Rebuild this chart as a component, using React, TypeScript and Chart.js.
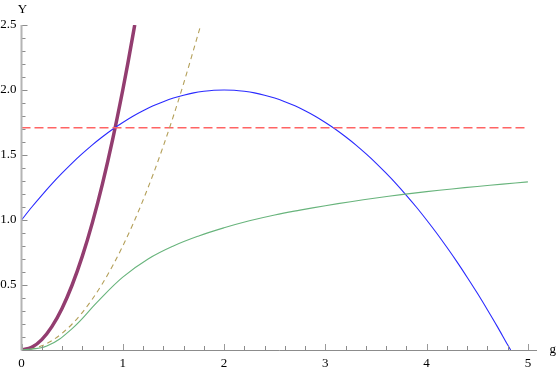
import React, { useEffect, useRef } from "react";
import { Chart, registerables } from "chart.js";

Chart.register(...registerables);

// Data
const blueG = [0, 0.1, 0.2, 0.3, 0.4, 0.5, 0.6, 0.7, 0.8, 0.9, 1.0, 1.1, 1.2, 1.3, 1.4, 1.5, 1.6, 1.7, 1.8, 1.9, 2.0,
  2.1, 2.2, 2.3, 2.4, 2.5, 2.6, 2.7, 2.8, 2.9, 3.0, 3.1, 3.2, 3.3, 3.4, 3.5, 3.6, 3.7, 3.8, 3.9, 4.0,
  4.1, 4.2, 4.3, 4.4, 4.5, 4.6, 4.7, 4.8, 4.83];
const blueY = [1.0, 1.098, 1.19, 1.278, 1.36, 1.438, 1.51, 1.578, 1.64, 1.698, 1.75, 1.798, 1.84, 1.878, 1.91, 1.938, 1.96, 1.978, 1.99, 1.998, 2.0,
  1.998, 1.99, 1.978, 1.96, 1.938, 1.91, 1.878, 1.84, 1.798, 1.75, 1.698, 1.64, 1.578, 1.51, 1.438, 1.36, 1.278, 1.19, 1.098, 1.0,
  0.898, 0.79, 0.678, 0.56, 0.438, 0.31, 0.178, 0.04, 0];

const purpleG = [0, 0.1, 0.2, 0.3, 0.4, 0.5, 0.6, 0.7, 0.8, 0.9, 1.0, 1.05, 1.118];
const purpleY = [0, 0.02, 0.08, 0.18, 0.32, 0.5, 0.72, 0.98, 1.28, 1.62, 2.0, 2.205, 2.5];

const oliveG = [0, 0.1, 0.2, 0.3, 0.4, 0.5, 0.6, 0.7, 0.8, 0.9, 1.0, 1.1, 1.2, 1.3, 1.4, 1.5, 1.6, 1.7, 1.77];
const oliveY = [0, 0.008, 0.032, 0.072, 0.128, 0.2, 0.288, 0.392, 0.512, 0.648, 0.8, 0.968, 1.152, 1.352, 1.568, 1.8, 2.048, 2.312, 2.5];

const greenG = [0, 0.25, 0.5, 0.75, 1.0, 1.25, 1.5, 1.75, 2.0, 2.25, 2.5, 2.75, 3.0, 3.25, 3.5, 3.75, 4.0, 4.25, 4.5, 4.75, 5.0];
const greenY = [0, 0.03, 0.165, 0.37, 0.56, 0.7, 0.8, 0.877, 0.94, 0.994, 1.039, 1.076, 1.11, 1.141, 1.169, 1.195, 1.218, 1.239, 1.258, 1.276, 1.293];

const redG = [0, 5];
const redY = [1.71, 1.71];

const xMajorTicks = [0, 1, 2, 3, 4, 5];
const yMajorTicks = [0.5, 1.0, 1.5, 2.0, 2.5];
const xMinorStep = 0.2;
const yMinorStep = 0.1;
const xAxisLabel = "g";
const yAxisLabel = "Y";

const pts = (xs: number[], ys: number[]) => xs.map((x, i) => ({ x, y: ys[i] }));

const FONT = "'Liberation Serif', 'DejaVu Serif', serif";
const FONT_SIZE = 13;

const axesPlugin = {
  id: "mmaAxes",
  afterDatasetsDraw(chart: any) {
    const ctx = chart.ctx;
    const xs = chart.scales.x;
    const ys = chart.scales.y;
    const x0 = xs.getPixelForValue(0);
    const y0 = ys.getPixelForValue(0);
    const area = chart.chartArea;
    ctx.save();
    // x axis
    ctx.strokeStyle = "#8c8c8c";
    ctx.lineWidth = 1;
    ctx.beginPath();
    ctx.moveTo(x0, Math.round(y0) + 0.5);
    ctx.lineTo(area.right, Math.round(y0) + 0.5);
    ctx.stroke();
    // x ticks
    const xmax = xMajorTicks[xMajorTicks.length - 1];
    for (let i = 0; i * xMinorStep <= xmax + 1e-9; i++) {
      const v = i * xMinorStep;
      const major = xMajorTicks.some((m) => Math.abs(m - v) < 1e-6);
      const px = Math.round(xs.getPixelForValue(v)) + 0.5;
      ctx.strokeStyle = major ? "#9a9a9a" : "#8c8c8c";
      ctx.beginPath();
      ctx.moveTo(px, Math.round(y0));
      ctx.lineTo(px, Math.round(y0) - (major ? 6 : 4));
      ctx.stroke();
    }
    // y ticks
    const ymax = yMajorTicks[yMajorTicks.length - 1];
    for (let i = 1; i * yMinorStep <= ymax + 1e-9; i++) {
      const v = i * yMinorStep;
      const major = yMajorTicks.some((m) => Math.abs(m - v) < 1e-6);
      const py = Math.round(ys.getPixelForValue(v)) + 0.5;
      ctx.strokeStyle = "#8c8c8c";
      ctx.beginPath();
      ctx.moveTo(x0, py);
      ctx.lineTo(x0 + (major ? 6 : 4), py);
      ctx.stroke();
    }
    // y axis
    ctx.strokeStyle = "#b4b4b4";
    ctx.lineWidth = 2;
    ctx.beginPath();
    ctx.moveTo(x0, y0 + 0.5);
    ctx.lineTo(x0, ys.getPixelForValue(ymax));
    ctx.stroke();
    // axis labels
    ctx.fillStyle = "#000";
    ctx.font = `${FONT_SIZE}px ${FONT}`;
    ctx.textAlign = "center";
    ctx.textBaseline = "alphabetic";
    ctx.fillText(yAxisLabel, x0 + 1, 13.3);
    ctx.textAlign = "left";
    ctx.fillText(xAxisLabel, area.right + 12.5, y0 + 2.5);
    ctx.restore();
  },
};

export default function App() {
  const ref = useRef<HTMLCanvasElement | null>(null);
  useEffect(() => {
    document.body.style.margin = "0";
    const canvas = ref.current!;
    const mono = { pointRadius: 0, fill: false, cubicInterpolationMode: "monotone" as const };
    const smooth = { pointRadius: 0, fill: false, tension: 0.4 };
    const chart = new Chart(canvas, {
      type: "line",
      data: {
        datasets: [
          { ...smooth, data: pts(greenG, greenY), borderColor: "#68b47c", borderWidth: 1.1 },
          { ...mono, data: pts(oliveG, oliveY), borderColor: "#b4a05a", borderWidth: 1.1, borderDash: [5, 4] },
          { ...mono, data: pts(redG, redY), borderColor: "#ff6464", borderWidth: 1.5, borderDash: [9, 4] },
          { ...mono, data: pts(blueG, blueY), borderColor: "#2a2aff", borderWidth: 1.1 },
          { ...mono, data: pts(purpleG, purpleY), borderColor: "#933d70", borderWidth: 3.5 },
        ],
      },
      options: {
        animation: false,
        responsive: false,
        maintainAspectRatio: false,
        layout: { padding: { top: 25, right: 19, left: 0, bottom: 0 } },
        plugins: { legend: { display: false }, tooltip: { enabled: false } },
        scales: {
          x: {
            type: "linear",
            min: 0,
            max: 5.09,
            grid: { display: false, drawTicks: false },
            border: { display: false },
            afterBuildTicks: (s: any) => {
              s.ticks = xMajorTicks.map((value) => ({ value }));
            },
            afterFit: (s: any) => {
              s.height = 21;
            },
            ticks: {
              autoSkip: false,
              maxRotation: 0,
              padding: 6,
              color: "#000",
              font: { family: FONT, size: FONT_SIZE },
              callback: (v: any) => String(v),
            },
          },
          y: {
            type: "linear",
            min: 0,
            max: 2.5,
            grid: { display: false, drawTicks: false },
            border: { display: false },
            afterBuildTicks: (s: any) => {
              s.ticks = yMajorTicks.map((value) => ({ value }));
            },
            afterFit: (s: any) => {
              s.width = 21.5;
            },
            ticks: {
              autoSkip: false,
              padding: 5,
              color: "#000",
              font: { family: FONT, size: FONT_SIZE },
              callback: (v: any) => Number(v).toFixed(1),
            },
          },
        },
      },
      plugins: [axesPlugin],
    });
    return () => chart.destroy();
  }, []);
  return (
    <div style={{ position: "relative", width: 556, height: 371, background: "#fff" }}>
      <canvas ref={ref} width={556} height={371} />
    </div>
  );
}
